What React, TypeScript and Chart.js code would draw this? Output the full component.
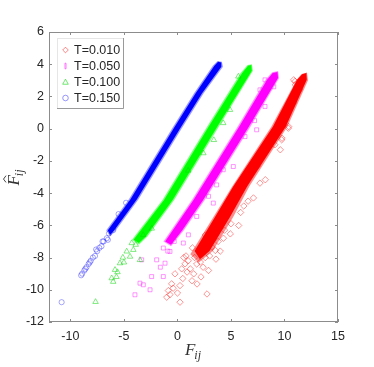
import React, { useEffect, useRef } from 'react';
import { Chart, registerables } from 'chart.js';

Chart.register(...registerables);

// ---- data ----
const xTicks = [-10, -5, 0, 5, 10, 15];
const yTicks = [-12, -10, -8, -6, -4, -2, 0, 2, 4, 6];
const xRange = [-12, 15];
const yRange = [-12, 6];
const seriesLabels = ['T=0.010', 'T=0.050', 'T=0.100', 'T=0.150'];

// outer (ragged, lighter) extent of each dense cloud
const redBand = [
  [1.2, -7.8], [3.36, -5.49], [5.11, -3.59], [8.78, 0.13], [11.13, 3.03], [11.6, 3.4], [12.1, 3.48],
  [12.2, 3.0], [10.28, 0.13], [6.71, -3.59], [5.21, -5.49], [3.3, -7.6], [2.0, -8.3],
];
const magentaBand = [
  [-1.3, -7.0], [1.35, -4.42], [5.63, 0.13], [8.23, 3.03], [8.85, 3.5], [9.4, 3.58],
  [9.5, 3.15], [6.83, 0.13], [2.55, -4.42], [0.6, -6.3], [-0.6, -7.3],
];
const greenBand = [
  [-4.25, -6.9], [-1.4, -4.42], [2.78, 0.13], [5.9, 3.45], [6.55, 3.95], [6.95, 4.0],
  [7.05, 3.6], [3.88, 0.13], [-0.3, -4.42], [-2.8, -6.7], [-3.6, -7.2],
];
const blueBand = [
  [-6.65, -6.3], [-4.55, -4.4], [-0.52, 0.0], [1.55, 2.2], [3.3, 3.9], [3.75, 4.2], [4.15, 4.15],
  [4.25, 3.85], [2.45, 2.2], [0.38, 0.0], [-3.65, -4.4], [-5.75, -6.3], [-6.3, -6.7],
];

// solid core of each cloud
const redCore = [
  [1.6, -7.6], [3.51, -5.49], [5.21, -3.59], [8.93, 0.13], [11.18, 3.03], [11.65, 3.38], [12.05, 3.45],
  [12.08, 3.03], [10.13, 0.13], [6.51, -3.59], [4.91, -5.49], [3.0, -7.6], [2.1, -8.1],
];
const magentaCore = [
  [-1.15, -7.0], [1.5, -4.42], [5.78, 0.13], [8.38, 3.03], [8.9, 3.45], [9.35, 3.52],
  [9.4, 3.15], [6.68, 0.13], [2.4, -4.42], [0.45, -6.3], [-0.6, -7.2],
];
const greenCore = [
  [-4.1, -6.9], [-1.25, -4.42], [2.93, 0.13], [6.05, 3.45], [6.6, 3.9], [6.9, 3.95],
  [6.95, 3.6], [3.73, 0.13], [-0.45, -4.42], [-2.95, -6.7], [-3.6, -7.1],
];
const blueCore = [
  [-6.5, -6.3], [-4.4, -4.4], [-0.37, 0.0], [1.7, 2.2], [3.45, 3.9], [3.8, 4.15], [4.1, 4.1],
  [4.1, 3.85], [2.3, 2.2], [0.23, 0.0], [-3.8, -4.4], [-5.9, -6.3], [-6.3, -6.6],
];

// individual markers (sparse tails, ragged edges and outliers)
const redPts = [
  [2.76, -10.26], [1.83, -9.64], [1.36, -9.44], [1.2, -8.7], [5.72, -6.01], [4.94, -6.53],
  [3.54, -7.56], [3.23, -7.35], [2.14, -8.28], [1.52, -9.01], [-1.0, -10.46], [0.24, -10.77],
  [-0.23, -9.01], [-0.85, -10.05], [-0.54, -9.63], [0.4, -8.7], [0.24, -9.74], [0.71, -8.39],
  [9.77, -0.59], [10.39, 0.13], [10.86, 3.03], [11.01, 2.72], [9.61, -1.31], [8.21, -3.17],
  [7.43, -2.35], [10.36, 0.03], [9.74, -0.69], [7.71, -3.38], [10.83, 1.59], [10.99, 2.93],
  [1.0, -8.2], [0.6, -8.0], [2.6, -8.0], [1.8, -8.4], [4.3, -6.8], [6.2, -4.8],
  [-0.7, -10.3], [0.0, -10.2], [-0.4, -9.9], [0.5, -9.3], [11.4, 2.4], [7.1, -4.3],
  [3.8, -7.0], [4.4, -6.3], [3.0, -7.9], [2.4, -8.6], [4.0, -7.6], [5.0, -5.9],
  [5.9, -5.2], [6.6, -4.5], [2.9, -8.8], [3.6, -8.1], [1.6, -8.0], [0.9, -8.9], [2.2, -9.2],
  [0.8, -7.9], [1.4, -7.4], [2.6, -6.6], [9.1, -1.0], [10.0, 0.6], [11.7, 3.1],
];
const magentaPts = [
  [-3.34, -8.14], [-2.41, -9.18], [-3.19, -9.69], [-3.97, -10.31], [-2.56, -10.0], [-1.32, -9.18],
  [-1.16, -8.35], [-1.94, -8.14], [-1.32, -7.41], [-0.7, -7.62], [0.55, -7.1], [1.02, -6.59],
  [1.8, -5.45], [3.35, -4.62], [-3.5, -9.59], [7.4, -0.07], [5.22, -2.35], [4.28, -2.55],
  [8.18, 1.38], [7.71, 2.41], [8.18, 3.03], [3.66, -3.49], [6.31, -0.49], [-0.3, -7.0],
  [-0.9, -7.6], [-1.6, -8.6], [2.9, -4.2], [7.2, 0.5], [9.0, 2.6],
];
const greenPts = [
  [-4.27, -7.1], [-4.74, -7.62], [-5.37, -8.35], [-5.83, -8.76], [-6.14, -9.28], [-6.0, -9.5],
  [-5.6, -8.9], [-5.1, -8.0], [-4.43, -7.94], [-4.12, -7.52], [-3.5, -8.15], [-3.9, -7.2],
  [-5.0, -8.3], [-5.7, -9.2], [2.42, -1.52], [4.28, 0.35], [4.91, 1.17], [5.69, 3.24],
  [-7.65, -10.75], [1.0, -2.6], [3.4, -0.7], [-2.4, -6.2], [-3.2, -6.6],
];
const bluePts = [
  [-6.6, -6.8], [-6.9, -7.0], [-7.1, -7.3], [-7.3, -7.4], [-7.5, -7.6], [-7.7, -7.9],
  [-7.9, -8.0], [-8.1, -8.2], [-8.3, -8.4], [-8.5, -8.6], [-8.7, -8.8], [-8.9, -9.0],
  [-9.0, -9.1], [-8.6, -8.7], [-8.2, -8.3], [-7.6, -7.5], [-7.0, -7.0], [-6.4, -6.5],
  [-6.5, -6.9], [-10.82, -10.77], [-6.0, -6.3], [-5.5, -5.3], [-4.8, -4.6],
];

// ---- styles ----
const colors = ['#ff0000', '#ff00ff', '#00ff00', '#0000ff'];
const fringe = ['rgba(255,0,0,0.45)', 'rgba(255,0,255,0.45)', 'rgba(0,255,0,0.5)', 'rgba(0,0,255,0.4)'];
const faint = ['rgba(255,0,0,0.6)', 'rgba(255,0,255,0.6)', 'rgba(0,215,0,0.7)', 'rgba(0,0,255,0.5)'];
const markers = ['rectRot', 'rect', 'triangle', 'circle'];
const markerSize = [3.2, 2.8, 3.2, 2.6];
const bands = [redBand, magentaBand, greenBand, blueBand];
const cores = [redCore, magentaCore, greenCore, blueCore];
const points = [redPts, magentaPts, greenPts, bluePts];
const FONT = '"Liberation Sans", Arial, sans-serif';
const AXIS = '#8c8c8c';
const TXT = '#262626';

const toXY = (arr: number[][]) => arr.map(([x, y]) => ({ x, y }));

function drawMarker(ctx: CanvasRenderingContext2D, style: string, x: number, y: number, r: number) {
  ctx.beginPath();
  if (style === 'rectRot') {
    ctx.moveTo(x, y - r); ctx.lineTo(x + r, y); ctx.lineTo(x, y + r); ctx.lineTo(x - r, y); ctx.closePath();
  } else if (style === 'rect') {
    ctx.rect(x - r * 0.2, y - r, r * 0.4, 2 * r);
  } else if (style === 'triangle') {
    ctx.moveTo(x, y - r); ctx.lineTo(x + r, y + r * 0.8); ctx.lineTo(x - r, y + r * 0.8); ctx.closePath();
  } else {
    ctx.arc(x, y, r, 0, Math.PI * 2);
  }
  ctx.stroke();
}

function drawF(ctx: CanvasRenderingContext2D, hat: boolean) {
  ctx.font = 'italic 17px "Liberation Serif", "DejaVu Serif", serif';
  const wF = ctx.measureText('F').width;
  ctx.font = 'italic 12px "Liberation Serif", "DejaVu Serif", serif';
  const wS = ctx.measureText('ij').width;
  const x0 = -(wF + wS) / 2;
  ctx.font = 'italic 17px "Liberation Serif", "DejaVu Serif", serif';
  ctx.textAlign = 'left';
  ctx.textBaseline = 'alphabetic';
  ctx.fillText('F', x0, 0);
  ctx.font = 'italic 12px "Liberation Serif", "DejaVu Serif", serif';
  ctx.fillText('ij', x0 + wF - 1, 4);
  if (hat) {
    ctx.beginPath();
    ctx.lineWidth = 0.9;
    ctx.moveTo(x0 + wF * 0.3, -13);
    ctx.lineTo(x0 + wF * 0.62, -15.5);
    ctx.lineTo(x0 + wF * 0.95, -13);
    ctx.stroke();
  }
}

const framePlugin = {
  id: 'frame',
  afterDraw(chart: any) {
    const { ctx, chartArea: a, scales } = chart;
    ctx.save();
    ctx.strokeStyle = AXIS;
    ctx.lineWidth = 1;
    ctx.strokeRect(a.left + 0.5, a.top + 0.5, a.right - a.left - 1, a.bottom - a.top - 1);
    ctx.beginPath();
    const tl = 3;
    xTicks.forEach((v) => {
      const px = Math.round(scales.x.getPixelForValue(v)) + 0.5;
      ctx.moveTo(px, a.bottom); ctx.lineTo(px, a.bottom - tl);
      ctx.moveTo(px, a.top); ctx.lineTo(px, a.top + tl);
    });
    yTicks.forEach((v) => {
      const py = Math.round(scales.y.getPixelForValue(v)) + 0.5;
      ctx.moveTo(a.left, py); ctx.lineTo(a.left + tl, py);
      ctx.moveTo(a.right, py); ctx.lineTo(a.right - tl, py);
    });
    ctx.stroke();

    // legend box
    const lx = a.left + 8, ly = a.top + 6, lw = 66, lh = 70;
    ctx.fillStyle = '#ffffff';
    ctx.fillRect(lx, ly, lw, lh);
    ctx.strokeStyle = '#e6e6e6';
    ctx.strokeRect(lx + 0.5, ly + 0.5, lw, lh);
    ctx.strokeStyle = '#9a9a9a';
    ctx.beginPath();
    ctx.moveTo(lx + lw + 0.5, ly); ctx.lineTo(lx + lw + 0.5, ly + lh + 0.5); ctx.lineTo(lx, ly + lh + 0.5);
    ctx.stroke();
    seriesLabels.forEach((lab, i) => {
      const cy = ly + 12 + i * 16;
      ctx.strokeStyle = faint[i];
      ctx.lineWidth = 0.8;
      drawMarker(ctx, markers[i], lx + 8.5, cy, 2.8);
      ctx.fillStyle = TXT;
      ctx.font = '12.5px ' + FONT;
      ctx.textAlign = 'left';
      ctx.textBaseline = 'middle';
      ctx.fillText(lab, lx + 17, cy + 0.5);
    });

    // axis titles
    ctx.fillStyle = '#333333';
    ctx.strokeStyle = '#333333';
    ctx.save();
    ctx.translate((a.left + a.right) / 2, 355);
    drawF(ctx, false);
    ctx.restore();
    ctx.save();
    ctx.translate(19, (a.top + a.bottom) / 2);
    ctx.rotate(-Math.PI / 2);
    drawF(ctx, true);
    ctx.restore();
    ctx.restore();
  },
};

function polygonSet(label: string, poly: number[][], fillColor: string) {
  return {
    type: 'line',
    label,
    data: toXY(poly.concat([poly[0]])),
    showLine: true,
    fill: 'shape',
    tension: 0,
    backgroundColor: fillColor,
    borderColor: fillColor,
    borderWidth: 0,
    pointRadius: 0,
  };
}

export default function App() {
  const ref = useRef<HTMLCanvasElement | null>(null);
  useEffect(() => {
    if (!ref.current) return;
    const datasets: any[] = [];
    for (let i = 3; i >= 0; i--) {
      datasets.push({
        type: 'scatter',
        label: seriesLabels[i] + ' pts',
        data: toXY(points[i]),
        showLine: false,
        pointStyle: markers[i],
        pointRadius: markerSize[i],
        pointBorderWidth: 0.7,
        pointBorderColor: faint[i],
        pointBackgroundColor: 'rgba(0,0,0,0)',
      });
      datasets.push(polygonSet(seriesLabels[i] + ' core', cores[i], colors[i]));
      datasets.push(polygonSet(seriesLabels[i] + ' edge', bands[i], fringe[i]));
    }
    const tickFont = { family: FONT, size: 12.5 };
    const chart = new Chart(ref.current, {
      type: 'scatter',
      data: { datasets },
      options: {
        animation: false,
        responsive: false,
        devicePixelRatio: 1,
        layout: { padding: { top: 32, right: 36, left: 0, bottom: 0 } },
        plugins: { legend: { display: false }, tooltip: { enabled: false } },
        scales: {
          x: {
            type: 'linear',
            min: xRange[0],
            max: xRange[1],
            afterBuildTicks: (s: any) => { s.ticks = xTicks.map((v) => ({ value: v })); },
            afterFit: (s: any) => { s.height = 45; },
            grid: { display: false, drawTicks: false },
            border: { display: false },
            ticks: { padding: 7, font: tickFont, color: TXT, autoSkip: false, maxRotation: 0, callback: (v: any) => String(v) },
          },
          y: {
            type: 'linear',
            min: yRange[0],
            max: yRange[1],
            afterBuildTicks: (s: any) => { s.ticks = yTicks.map((v) => ({ value: v })); },
            afterFit: (s: any) => { s.width = 49; },
            grid: { display: false, drawTicks: false },
            border: { display: false },
            ticks: { padding: 5, font: tickFont, color: TXT, autoSkip: false, callback: (v: any) => String(v) },
          },
        },
      } as any,
      plugins: [framePlugin],
    });
    return () => chart.destroy();
  }, []);
  return (
    <div style={{ position: 'absolute', left: 0, top: 0, width: 374, height: 367, background: '#fff' }}>
      <canvas ref={ref} width={374} height={367} style={{ display: 'block' }} />
    </div>
  );
}
